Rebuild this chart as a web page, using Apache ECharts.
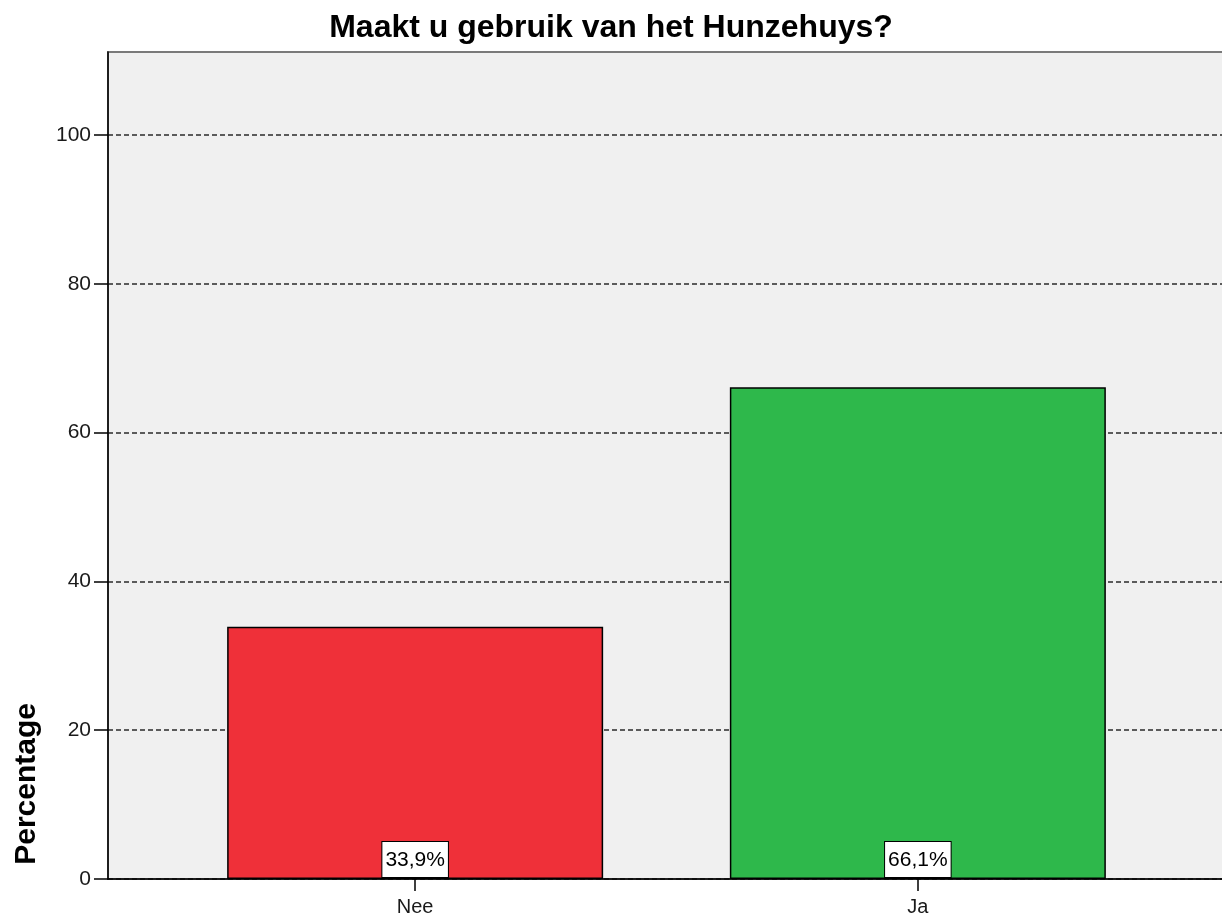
<!DOCTYPE html>
<html lang="nl">
<head>
    <meta charset="UTF-8">
    <title>Hunzehuys</title>
    <script src="https://cdn.jsdelivr.net/npm/echarts@6/dist/echarts.min.js"></script>
    <style>
        html, body {margin: 0; padding: 0; background: #fff;}
        #chart {width: 1222px; height: 919px;}
    </style>
</head>
<body>
<div id="chart"></div>
<script>
    // gegevens uit de figuur
    let categories = ['Nee', 'Ja'];
    let percentages = [33.9, 66.1];
    let barColors = ['#ef3039', '#2eb84b'];
    let yTicks = [0, 20, 40, 60, 80, 100];

    let myChart = echarts.init(document.getElementById('chart'));

    // x als waarde-as zodat de balken op dezelfde plek staan als in SPSS
    let barData = categories.map(function (c, i) {
        return {
            value: [i, percentages[i]],
            itemStyle: {color: barColors[i]}
        };
    });

    let option = {
        backgroundColor: '#ffffff',
        animation: false,
        title: {
            text: 'Maakt u gebruik van het Hunzehuys?',
            left: 'center',
            top: 7,
            textStyle: {fontFamily: 'Liberation Sans', fontSize: 32, fontWeight: 'bold', color: '#000'}
        },
        grid: {
            left: 108, top: 52, right: -3, bottom: 40,
            outerBoundsMode: 'none',
            show: true,
            backgroundColor: '#f0f0f0',
            borderColor: '#7a7a7a',
            borderWidth: 2
        },
        xAxis: {
            type: 'value',
            min: -0.611,
            max: 1.611,
            splitLine: {show: false},
            axisLine: {show: true, onZero: false, lineStyle: {color: '#000', width: 1.5}},
            axisTick: {show: true, length: 12, customValues: [0, 1], lineStyle: {color: '#000', width: 1.5}},
            axisLabel: {
                customValues: [0, 1],
                margin: 18,
                fontFamily: 'Liberation Sans', fontSize: 20, color: '#1a1a1a',
                formatter: function (v) {
                    return categories[Math.round(v)] || '';
                }
            }
        },
        yAxis: {
            type: 'value',
            min: 0,
            max: 111.16,
            interval: 20,
            axisLine: {show: true, onZero: false, lineStyle: {color: '#000', width: 1.5}},
            axisTick: {show: true, length: 14, lineStyle: {color: '#000', width: 1.5}},
            axisLabel: {
                showMaxLabel: false,
                margin: 17,
                fontFamily: 'Liberation Sans', fontSize: 21, color: '#1a1a1a',
                formatter: function (v) {
                    return yTicks.indexOf(v) >= 0 ? String(v) : '';
                }
            },
            splitLine: {show: true, showMaxLine: false, lineStyle: {color: '#2a2a2a', type: [5, 3], width: 1.5}}
        },
        graphic: [{
            type: 'text',
            left: 12,
            top: 703,
            rotation: Math.PI / 2,
            style: {
                text: 'Percentage',
                font: 'bold 30px "Liberation Sans"',
                fill: '#000'
            }
        }],
        series: [{
            type: 'bar',
            barWidth: 376,
            data: barData,
            itemStyle: {borderColor: '#000', borderWidth: 1.5},
            label: {
                show: true,
                position: 'insideBottom',
                distance: 2,
                formatter: function (p) {
                    return p.value[1].toFixed(1).replace('.', ',') + '%';
                },
                fontFamily: 'Liberation Sans', fontSize: 21, color: '#000',
                lineHeight: 24,
                backgroundColor: '#fff',
                borderColor: '#000',
                borderWidth: 1,
                padding: [6, 3, 5, 3]
            }
        }]
    };

    myChart.setOption(option);
</script>
</body>
</html>
